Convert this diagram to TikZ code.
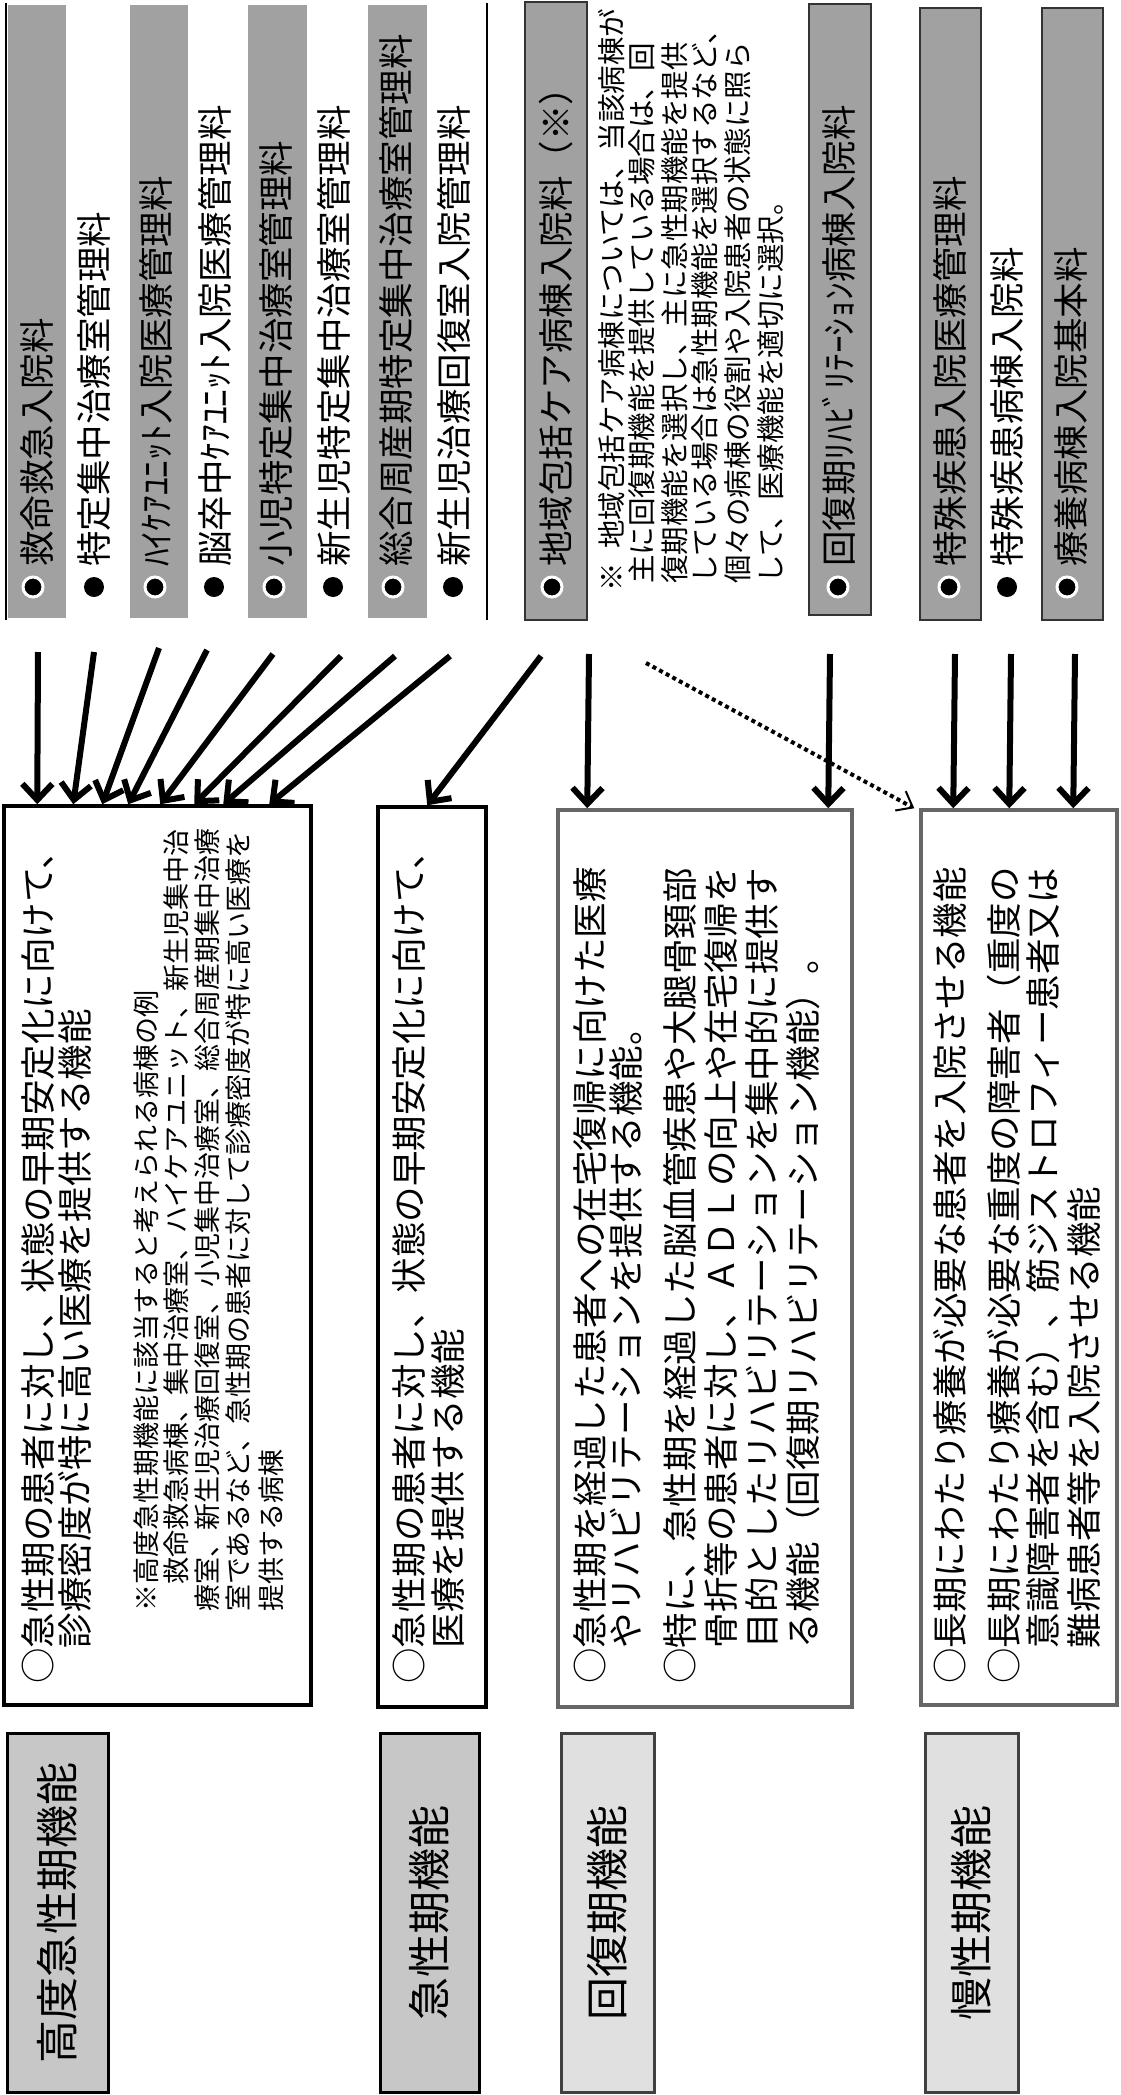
\documentclass[tikz,border=0pt]{standalone}
\usepackage{fontspec}
\newfontfamily\jpf{Noto Sans CJK JP}
\usetikzlibrary{arrows.meta}
\begin{document}
\begin{tikzpicture}[x=1pt,y=-1pt,
  txt/.style={rotate=90, anchor=base west, inner sep=0pt, font=\jpf\fontsize{35.5}{36}\selectfont},
  smalltxt/.style={rotate=90, anchor=base west, inner sep=0pt, font=\jpf\fontsize{27}{28}\selectfont},
  notetxt/.style={rotate=90, anchor=base west, inner sep=0pt, font=\jpf\fontsize{28.5}{29}\selectfont},
  lab/.style={rotate=90, draw=black, line width=3pt, inner sep=0pt, font=\jpf\fontsize{43}{44}\selectfont},
  dbox/.style={draw=black, line width=3.5pt, inner sep=0pt},
  gbox/.style={draw=black!60, line width=3.5pt, inner sep=0pt},
  band/.style={fill=black!37},
  bandb/.style={fill=black!37, draw=black!80, line width=2pt},
  rulel/.style={line width=2.5pt},
  bul/.style={circle, fill=black, inner sep=0pt, minimum size=20pt},
  bulg/.style={bul, draw=white, line width=3pt},
  arr/.style={line width=6pt, -{Straight Barb[length=16pt,width=30pt]}},
  darr/.style={line width=4pt, dash pattern=on 4pt off 3.5pt, -{Straight Barb[length=14pt,width=22pt,line width=2pt]}}
]
\fill[white] (0,0) rectangle (1120,2095);
\useasboundingbox (0,0) rectangle (1120,2095);

% ---------- list strips ----------
\fill[band] (8,5) rectangle (66,618);
\fill[band] (130,5) rectangle (188,618);
\fill[band] (248,5) rectangle (307,618);
\fill[band] (368,5) rectangle (427,618);
\draw[rulel] (6,3) -- (6,620);
\draw[rulel] (487,3) -- (487,620);
\filldraw[bandb] (525,2) rectangle (587,620);
\filldraw[bandb] (809,4) rectangle (871,615);
\filldraw[bandb] (920,8) rectangle (981,620);
\filldraw[bandb] (1042,8) rectangle (1103,620);

% ---------- bullets ----------
\node[bulg] (d1) at (33,587) {};
\node[bul]  (d2) at (94,587) {};
\node[bulg] (d3) at (155,587) {};
\node[bul]  (d4) at (214,587) {};
\node[bulg] (d5) at (274,587) {};
\node[bul]  (d6) at (333,587) {};
\node[bulg] (d7) at (393,587) {};
\node[bul]  (d8) at (453,587) {};
\node[bulg] (d9) at (552,587) {};
\node[bulg] (d10) at (838,587) {};
\node[bulg] (d11) at (949,587) {};
\node[bul]  (d12) at (1007,587) {};
\node[bulg] (d13) at (1067,587) {};

% ---------- list texts ----------
\node[txt] (r1) at (50.5,567) {救命救急入院料};
\node[txt] (r2) at (107.5,567) {特定集中治療室管理料};
\node[txt] (r3) at (169.5,567) {ﾊｲｹｱﾕﾆｯﾄ入院医療管理料};
\node[txt] (r4) at (228.5,567) {脳卒中ｹｱﾕﾆｯﾄ入院医療管理料};
\node[txt] (r5) at (289.5,567) {小児特定集中治療室管理料};
\node[txt] (r6) at (347.5,567) {新生児特定集中治療室管理料};
\node[txt] (r7) at (409.5,567) {総合周産期特定集中治療室管理料};
\node[txt] (r8) at (467.5,567) {新生児治療回復室入院管理料};
\node[txt] (r9) at (569.5,567) {地域包括ケア病棟入院料（※）};
\node[txt] (r10) at (852.5,567) {回復期ﾘﾊﾋﾞﾘﾃｰｼｮﾝ病棟入院料};
\node[txt] (r11) at (963.5,567) {特殊疾患入院医療管理料};
\node[txt] (r12) at (1020.5,567) {特殊疾患病棟入院料};
\node[txt] (r13) at (1084.5,567) {療養病棟入院基本料};

% ---------- note on 地域包括ケア ----------
\node[notetxt] (k0) at (622.6,592) {※};
\node[notetxt] (k1) at (622.6,549) {地域包括ケア病棟については、当該病棟が};
\node[notetxt] (k2) at (652.6,584) {主に回復期機能を提供している場合は、回};
\node[notetxt] (k3) at (685.6,584) {復期機能を選択し、主に急性期機能を提供};
\node[notetxt] (k4) at (715.6,584) {している場合は急性期機能を選択するなど、};
\node[notetxt] (k5) at (748.6,584) {個々の病棟の役割や入院患者の状態に照ら};
\node[notetxt] (k6) at (781.6,584) {して、医療機能を適切に選択。};

% ---------- description boxes ----------
\node[dbox, minimum width=307pt, minimum height=899pt] (b1) at (157.5,1255.5) {};
\node[dbox, minimum width=108pt, minimum height=900pt] (b2) at (432,1257) {};
\node[gbox, minimum width=294pt, minimum height=897pt] (b3) at (705,1258.5) {};
\node[gbox, minimum width=196pt, minimum height=895pt] (b4) at (1019,1257.5) {};

% box 1 text
\node[txt] (b1a) at (51.5,1684) {○急性期の患者に対し、状態の早期安定化に向けて、};
\node[txt] (b1b) at (88.5,1684) {　診療密度が特に高い医療を提供する機能};
\node[smalltxt] (n1) at (156,1612) {※高度急性期機能に該当すると考えられる病棟の例};
\node[smalltxt] (n2) at (186,1612) {　救命救急病棟、集中治療室、ハイケアユニット、新生児集中治};
\node[smalltxt] (n3) at (217,1612) {療室、新生児治療回復室、小児集中治療室、総合周産期集中治療};
\node[smalltxt] (n4) at (248,1612) {室であるなど、急性期の患者に対して診療密度が特に高い医療を};
\node[smalltxt] (n5) at (281,1612) {提供する病棟};

% box 2 text
\node[txt] (b2a) at (422.5,1684) {○急性期の患者に対し、状態の早期安定化に向けて、};
\node[txt] (b2b) at (461.5,1684) {　医療を提供する機能};

% box 3 text
\node[txt] (b3a) at (603.5,1684) {○急性期を経過した患者への在宅復帰に向けた医療};
\node[txt] (b3b) at (639.5,1684) {　やリハビリテーションを提供する機能。};
\node[txt] (b3c) at (693.5,1684) {○特に、急性期を経過した脳血管疾患や大腿骨頚部};
\node[txt] (b3d) at (734.5,1684) {　骨折等の患者に対し、ＡＤＬの向上や在宅復帰を};
\node[txt] (b3e) at (775.5,1684) {　目的としたリハビリテーションを集中的に提供す};
\node[txt] (b3f) at (816.5,1684) {　る機能（回復期リハビリテーション機能）。};

% box 4 text
\node[txt] (b4a) at (963.5,1684) {○長期にわたり療養が必要な患者を入院させる機能};
\node[txt] (b4b) at (1017.5,1684) {○長期にわたり療養が必要な重度の障害者（重度の};
\node[txt] (b4c) at (1056.5,1684) {　意識障害者を含む）、筋ジストロフィー患者又は};
\node[txt] (b4d) at (1097.5,1684) {　難病患者等を入院させる機能};

% ---------- function labels ----------
\node[lab, fill=black!22, minimum width=359pt, minimum height=101pt] (L1) at (57.5,1912.5) {高度急性期機能};
\node[lab, fill=black!22, minimum width=359pt, minimum height=99pt] (L2) at (429.5,1912.5) {急性期機能};
\node[lab, fill=black!12, draw=black!75, minimum width=359pt, minimum height=93pt] (L3) at (607.5,1912.5) {回復期機能};
\node[lab, fill=black!12, draw=black!75, minimum width=359pt, minimum height=93pt] (L4) at (971.5,1912.5) {慢性期機能};

% ---------- arrows ----------
\coordinate (t1) at (38,652);
\coordinate (t2) at (94,652);
\coordinate (t3) at (159,648);
\coordinate (t4) at (207,650);
\coordinate (t5) at (273,654);
\coordinate (t6) at (341,656);
\coordinate (t7) at (395,656);
\coordinate (t8) at (450,656);
\coordinate (t9) at (541,656);
\coordinate (t10) at (589,654);
\coordinate (td) at (646,663);
\coordinate (t11) at (830,654);
\coordinate (t12) at (955,654);
\coordinate (t13) at (1011,654);
\coordinate (t14) at (1075,654);

\draw[arr] (t1) -- ([xshift=35pt]b1.north west);
\draw[arr] (t2) -- ([xshift=71pt]b1.north west);
\draw[arr] (t3) -- ([xshift=100pt]b1.north west);
\draw[arr] (t4) -- ([xshift=126pt]b1.north west);
\draw[arr] (t5) -- ([xshift=158pt]b1.north west);
\draw[arr] (t6) -- ([xshift=192pt]b1.north west);
\draw[arr] (t7) -- ([xshift=221pt]b1.north west);
\draw[arr] (t8) -- ([xshift=267pt]b1.north west);
\draw[arr] (t9) -- ([xshift=51pt]b2.north west);
\draw[arr] (t10) -- ([xshift=31pt]b3.north west);
\draw[darr] (td) -- ([xshift=-5pt]b4.north west);
\draw[arr] (t11) -- ([xshift=272pt]b3.north west);
\draw[arr] (t12) -- ([xshift=34pt]b4.north west);
\draw[arr] (t13) -- ([xshift=90pt]b4.north west);
\draw[arr] (t14) -- ([xshift=154pt]b4.north west);
\end{tikzpicture}
\end{document}
